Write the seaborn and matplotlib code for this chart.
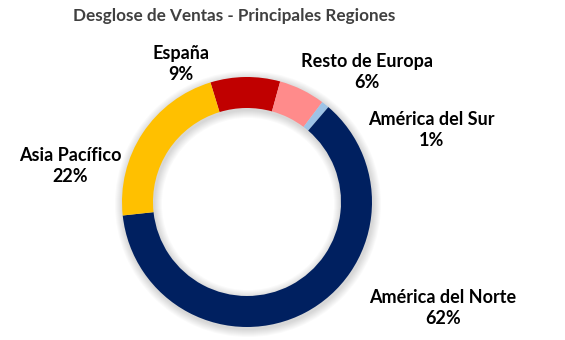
import matplotlib
matplotlib.use("Agg")
import matplotlib.pyplot as plt
from matplotlib.patches import Wedge
import seaborn as sns

# Sales share by region (percent), in clockwise order from the top
regions = ["España", "Resto de Europa", "América del Sur", "América del Norte", "Asia Pacífico"]
shares = [9, 6, 1, 62, 22]
colors = ["#C00000", "#FF8B8B", "#9DC3E6", "#002060", "#FFC000"]

title = "Desglose de Ventas - Principales Regiones"

sns.set_theme(style="white")
plt.rcParams["font.family"] = ["Lato", "DejaVu Sans"]

W, H = 565, 340
fig = plt.figure(figsize=(W / 100, H / 100), dpi=100)
ax = fig.add_axes([0, 0, 1, 1])
ax.axis("off")

center = (247, H - 202)
radius = 125
ring = 31

# soft drop shadow under the ring
for k in range(8):
    ax.add_patch(Wedge((center[0] + 1, center[1] - 2), radius + 1 + k, 0, 360,
                       width=ring + 2 + 2 * k, facecolor="#000000",
                       alpha=0.018, linewidth=0, zorder=1))

wedges, _ = ax.pie(shares, colors=colors, startangle=107, counterclock=False,
                   center=center, radius=radius,
                   wedgeprops=dict(width=ring, linewidth=0, zorder=2))
ax.set_xlim(0, W)
ax.set_ylim(0, H)
ax.set_aspect("equal")

# label anchor points (pixel layout, y from top)
label_pos = {
    "España": (181, 64),
    "Resto de Europa": (367, 72),
    "América del Sur": (431, 130),
    "Asia Pacífico": (70, 166),
    "América del Norte": (443, 308),
}
for name, val in zip(regions, shares):
    x, y = label_pos[name]
    ax.text(x, H - y, f"{name}\n{val}%", ha="center", va="center",
            fontsize=13, fontweight="bold", color="black",
            linespacing=1.3, zorder=3)

ax.text(234, H - 16, title, ha="center", va="center", fontsize=12.3,
        fontweight="bold", color="#404040")

fig.savefig("out.png", dpi=100)
